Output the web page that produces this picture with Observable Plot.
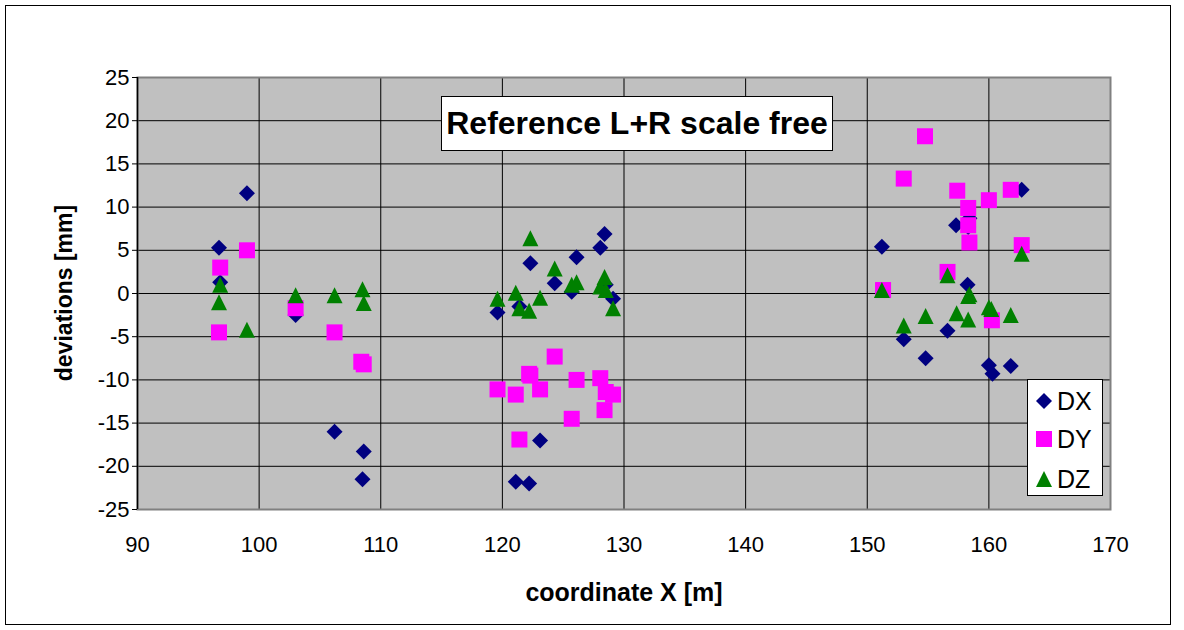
<!DOCTYPE html>
<html>
<head>
<meta charset="utf-8">
<script src="https://cdn.jsdelivr.net/npm/d3@7"></script>
<script src="https://cdn.jsdelivr.net/npm/@observablehq/plot@0.6"></script>
<style>
  html, body { margin: 0; padding: 0; background: #fff; }
  #wrap { position: relative; width: 1184px; height: 630px; overflow: hidden; font-family: "Liberation Sans", Arial, sans-serif; }
  #border { position: absolute; left: 5px; top: 5px; width: 1166px; height: 620px; border: 1px solid #000; box-sizing: border-box; }
  #chart { position: absolute; left: 0; top: 0; }
  .title { position: absolute; left: 441px; top: 96px; width: 392px; height: 55px; border: 1px solid #000; box-sizing: border-box; background: #fff; font-weight: bold; font-size: 32px; line-height: 53px; text-align: center; color: #000; white-space: nowrap; }
  .ylab { position: absolute; left: 64px; top: 293px; transform: translate(-50%, -50%) rotate(-90deg); font-weight: bold; font-size: 23px; white-space: nowrap; color: #000; }
  .xlab { position: absolute; left: 624px; top: 592px; transform: translate(-50%, -50%); font-weight: bold; font-size: 25px; white-space: nowrap; color: #000; }
  .legend { position: absolute; left: 1027px; top: 379px; width: 76px; height: 117px; border: 1px solid #000; box-sizing: border-box; background: #fff; }
  .legend .row { position: absolute; left: 0; height: 30px; display: flex; align-items: center; }
  .legend svg { margin-left: 7px; }
  .legend span { font-size: 25px; margin-left: 4px; color: #000; }
</style>
</head>
<body>
<div id="wrap">
  <div id="chart"></div>
  <div class="title">Reference L+R scale free</div>
  <div class="ylab">deviations [mm]</div>
  <div class="xlab">coordinate X [m]</div>
  <div class="legend" id="legend"></div>
  <div id="border"></div>
</div>
<script>
// ---- data ----
const seriesNames = ["DX", "DY", "DZ"];
const seriesColors = ["#000080", "#FF00FF", "#008000"];

const dxX = [96.7, 96.8, 99.0, 103.0, 106.2, 108.5, 108.6,
             119.6, 121.1, 121.4, 122.2, 122.3, 123.1, 124.3, 125.7, 126.1, 128.05, 128.4, 128.5, 129.1,
             151.2, 153.0, 154.8, 156.6, 157.3, 158.25, 158.3, 158.4, 160.0, 160.3, 161.8, 162.7];
const dxV = [5.3, 1.3, 11.6, -2.5, -16.0, -21.5, -18.3,
             -2.2, -21.8, -1.5, -22.0, 3.5, -17.0, 1.2, 0.2, 4.2, 5.3, 6.9, 1.0, -0.6,
             5.4, -5.3, -7.5, -4.3, 7.9, 1.0, 7.7, 8.7, -8.3, -9.3, -8.4, 12.0];

const dyX = [96.7, 96.8, 99.0, 103.0, 106.2, 108.4, 108.6,
             119.6, 121.1, 121.4, 122.2, 122.3, 123.1, 124.3, 125.7, 126.1, 128.05, 128.4, 128.5, 129.1,
             151.3, 153.0, 154.75, 156.6, 157.4, 158.3, 158.3, 158.4, 160.0, 160.25, 161.8, 162.7];
const dyV = [-4.5, 3.0, 5.0, -1.7, -4.5, -7.9, -8.2,
             -11.1, -11.7, -16.9, -9.3, -9.5, -11.1, -7.3, -14.5, -10.0, -9.8, -13.5, -11.4, -11.7,
             0.4, 13.3, 18.2, 2.5, 11.9, 9.9, 7.9, 5.9, 10.8, -3.1, 12.0, 5.6];

const dzX = [96.7, 96.8, 99.0, 103.0, 106.2, 108.5, 108.6,
             119.6, 121.1, 121.4, 122.2, 122.3, 123.1, 124.3, 125.7, 126.1, 128.05, 128.4, 128.5, 129.1,
             151.2, 153.0, 154.8, 156.6, 157.35, 158.3, 158.3, 158.4, 160.0, 160.2, 161.8, 162.7];
const dzV = [-1.0, 1.0, -4.2, -0.2, -0.2, 0.5, -1.1,
             -0.6, 0.1, -1.7, -2.0, 6.4, -0.5, 2.9, 1.0, 1.3, 0.8, 1.9, 0.4, -1.7,
             0.4, -3.7, -2.6, 2.1, -2.3, -3.0, -0.3, -0.1, -1.6, -1.8, -2.5, 4.6];

const xTicks = [90, 100, 110, 120, 130, 140, 150, 160, 170];
const yTicks = [-25, -20, -15, -10, -5, 0, 5, 10, 15, 20, 25];

// ---- marker shapes (Excel-like) ----
const symDiamond = { draw(ctx, size) { const r = Math.sqrt(size / Math.PI);
  ctx.moveTo(0, -r); ctx.lineTo(r, 0); ctx.lineTo(0, r); ctx.lineTo(-r, 0); ctx.closePath(); } };
const symSquare = { draw(ctx, size) { const r = Math.sqrt(size / Math.PI);
  ctx.moveTo(-r, -r); ctx.lineTo(r, -r); ctx.lineTo(r, r); ctx.lineTo(-r, r); ctx.closePath(); } };
const symTriangle = { draw(ctx, size) { const r = Math.sqrt(size / Math.PI);
  ctx.moveTo(0, -r); ctx.lineTo(r, r); ctx.lineTo(-r, r); ctx.closePath(); } };
const symbols = [symDiamond, symSquare, symTriangle];

const toRows = (xs, vs) => xs.map((x, i) => ({x, v: vs[i]}));
const rows = [toRows(dxX, dxV), toRows(dyX, dyV), toRows(dzX, dzV)];

const chart = Plot.plot({
  width: 1184,
  height: 630,
  marginLeft: 137,
  marginRight: 74,
  marginTop: 77,
  marginBottom: 121,
  style: { fontFamily: "'Liberation Sans', Arial, sans-serif", fontSize: "22px", background: "transparent", color: "#000" },
  x: { domain: [90, 170], label: null },
  y: { domain: [-25, 25], label: null },
  marks: [
    Plot.frame({ fill: "#C0C0C0", stroke: null }),
    Plot.gridX(xTicks, { stroke: "#000", strokeOpacity: 1, strokeWidth: 1 }),
    Plot.gridY(yTicks, { stroke: "#000", strokeOpacity: 1, strokeWidth: 1 }),
    Plot.frame({ stroke: "#808080", strokeWidth: 2 }),
    Plot.ruleX([90], { stroke: "#000", strokeWidth: 1.5 }),
    Plot.axisX(xTicks, { tickSize: 0, tickPadding: 27, fontSize: 22, label: null, tickFormat: d => String(d) }),
    Plot.axisY(yTicks, { tickSize: 5, tickPadding: 3, fontSize: 22, label: null, stroke: "#000", tickFormat: d => String(d) }),
    ...rows.map((data, i) => Plot.dot(data, {
      x: "x", y: "v", r: 8, symbol: symbols[i], fill: seriesColors[i], stroke: null
    }))
  ]
});
document.getElementById("chart").appendChild(chart);

// ---- legend ----
const legend = document.getElementById("legend");
const rowTops = [6, 44, 84];
seriesNames.forEach((name, i) => {
  const row = document.createElement("div");
  row.className = "row";
  row.style.top = rowTops[i] + "px";
  const svg = d3.create("svg").attr("width", 18).attr("height", 18);
  svg.append("path")
    .attr("transform", "translate(9,9)")
    .attr("d", d3.symbol(symbols[i], Math.PI * 64)())
    .attr("fill", seriesColors[i]);
  row.appendChild(svg.node());
  const span = document.createElement("span");
  span.textContent = name;
  row.appendChild(span);
  legend.appendChild(row);
});
</script>
</body>
</html>
